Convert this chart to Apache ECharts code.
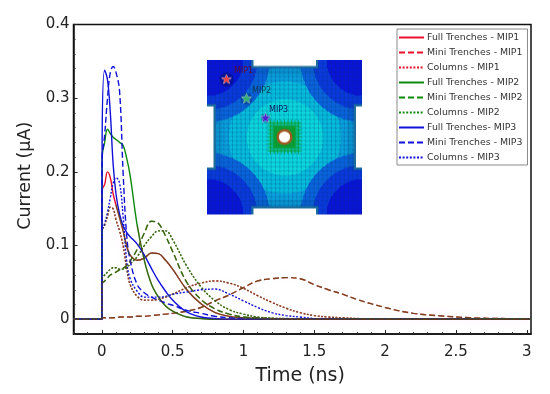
<!DOCTYPE html>
<html><head><meta charset="utf-8">
<style>html,body{margin:0;padding:0;background:#fff}#c{width:550px;height:394px}</style>
<script src="https://cdn.jsdelivr.net/npm/echarts@6/dist/echarts.min.js"></script>
</head><body><div id="c"></div>
<script>
const time = [-0.2,0,0.002,0.02,0.04,0.06,0.08,0.1,0.125,0.15,0.175,0.2,0.25,0.3,0.35,0.4,0.45,0.5,0.6,0.7,0.8,0.9,1,1.1,1.2,1.3,1.4,1.5,1.6,1.7,1.8,2,2.2,2.4,2.6,2.8,3.03];
const fullMip1 = [0,0,.175,.183,.2,.192,.17,.155,.138,.12,.1,.087,.08,.083,.09,.089,.08,.068,.04,.021,.009,.004,.002,.001,0,0,0,0,0,0,0,0,0,0,0,0,0];
const miniMip1 = [0,.001,.002,.002,.002,.002,.002,.002,.003,.003,.003,.003,.004,.004,.005,.006,.007,.008,.011,.016,.025,.033,.043,.052,.055,.0565,.055,.047,.04,.034,.027,.016,.008,.0045,.002,.001,.0005];
const colsMip1 = [0,0,.12,.128,.14,.152,.15,.135,.12,.1,.07,.047,.031,.026,.026,.027,.03,.034,.043,.049,.052,.049,.042,.032,.023,.015,.009,.005,.003,.002,.001,.0005,0,0,0,0,0];
const fullMip2 = [0,0,.22,.24,.258,.252,.247,.244,.24,.236,.219,.195,.127,.08,.048,.03,.018,.011,.003,.001,0,0,0,0,0,0,0,0,0,0,0,0,0,0,0,0,0];
const miniMip2 = [0,0,.048,.052,.056,.06,.062,.064,.067,.069,.073,.079,.095,.117,.133,.13,.113,.092,.05,.027,.014,.007,.003,.002,.001,0,0,0,0,0,0,0,0,0,0,0,0];
const colsMip2 = [0,0,.055,.06,.064,.068,.07,.07,.068,.068,.07,.075,.085,.1,.112,.12,.12,.108,.072,.044,.025,.013,.007,.003,.0015,.001,0,0,0,0,0,0,0,0,0,0,0];
const fullMip3 = [0,0,.235,.338,.325,.28,.21,.17,.143,.127,.118,.112,.102,.087,.069,.052,.038,.026,.01,.003,.001,0,0,0,0,0,0,0,0,0,0,0,0,0,0,0,0];
const miniMip3 = [0,0,.215,.25,.3,.335,.343,.335,.31,.2,.115,.08,.047,.036,.03,.026,.022,.019,.012,.008,.004,.002,.001,.0005,0,0,0,0,0,0,0,0,0,0,0,0,0];
const colsMip3 = [0,0,.12,.13,.145,.165,.185,.192,.185,.14,.08,.055,.038,.03,.03,.03,.031,.034,.037,.04,.041,.034,.025,.016,.009,.005,.003,.001,.0005,0,0,0,0,0,0,0,0];
const xTicks = [0,0.5,1,1.5,2,2.5,3];
const yTicks = [0,0.1,0.2,0.3,0.4];
const xMinor = [-0.2,-0.1,0.1,0.2,0.3,0.4,0.6,0.7,0.8,0.9,1.1,1.2,1.3,1.4,1.6,1.7,1.8,1.9,2.1,2.2,2.3,2.4,2.6,2.7,2.8,2.9];
const yMinor = [-0.02,0.02,0.04,0.06,0.08,0.12,0.14,0.16,0.18,0.22,0.24,0.26,0.28,0.32,0.34,0.36,0.38];
const names = ['Full Trenches - MIP1','Mini Trenches - MIP1','Columns - MIP1','Full Trenches - MIP2','Mini Trenches - MIP2','Columns - MIP2','Full Trenches- MIP3','Mini Trenches - MIP3','Columns - MIP3'];
const values = [fullMip1,miniMip1,colsMip1,fullMip2,miniMip2,colsMip2,fullMip3,miniMip3,colsMip3];
const colors = ['#e8102a','#e8102a','#e8102a','#0a8a0a','#0a8a0a','#0a8a0a','#1010d8','#1010d8','#1010d8'];
const dashes = ['solid',[6,3],[2,1.6],'solid',[6,3],[2,1.6],'solid',[6,3],[2,1.6]];
const FONT = '"DejaVu Sans"';

function inset(){
  const W=156,H=156,c=document.createElement('canvas');c.width=W;c.height=H;
  const x=c.getContext('2d');
  const poly=[[0,0],[46.5,0],[46.5,6.5],[109,6.5],[109,0],[155,0],[155,47],[149,47],[149,108],[155,108],[155,155],[109,155],[109,149],[46.5,149],[46.5,155],[0,155],[0,108],[6.5,108],[6.5,47],[0,47]];
  const cx=77.5,cy=77.5;
  const im=x.createImageData(W,H);
  for(let j=0;j<H;j++)for(let i=0;i<W;i++){
    const dc=Math.min(Math.hypot(i,j),Math.hypot(155-i,j),Math.hypot(i,155-j),Math.hypot(155-i,155-j));
    const d0=Math.hypot(i-cx,j-cy);
    const col=dc<36?'#0a14dc':dc<50?'#0a3ae0':dc<62?'#0a66e0':d0<38?'#0cdce0':d0<56?'#06c0e0':d0<70?'#0aa4e0':'#0c86dc';
    const h=parseInt(col.slice(1),16),p=(j*W+i)*4;
    im.data[p]=h>>16;im.data[p+1]=(h>>8)&255;im.data[p+2]=h&255;im.data[p+3]=255;
  }
  x.putImageData(im,0,0);
  // mesh
  x.strokeStyle='rgba(10,50,110,.33)';x.lineWidth=.7;x.beginPath();
  for(let i=4;i<155;i+=4.3){x.moveTo(i,0);x.lineTo(i,155);x.moveTo(0,i);x.lineTo(155,i);}
  x.stroke();
  x.strokeStyle='rgba(10,50,110,.18)';x.lineWidth=.5;x.beginPath();
  for(let i=-155;i<155;i+=4.3){x.moveTo(i,0);x.lineTo(i+155,155);}
  x.stroke();
  // dense mesh strips next to the notches
  x.strokeStyle='rgba(10,70,120,.45)';x.lineWidth=.6;x.beginPath();
  for(let i=44;i<112;i+=2){x.moveTo(i,8);x.lineTo(i,15);x.moveTo(i,140);x.lineTo(i,147);x.moveTo(8,i);x.lineTo(15,i);x.moveTo(140,i);x.lineTo(147,i);}
  x.stroke();
  // green square + rays
  x.fillStyle='#0ab890';x.fillRect(cx-15,cy-15,30,30);
  x.fillStyle='#0a9a30';x.fillRect(cx-11,cy-11,22,22);
  x.strokeStyle='rgba(10,160,60,.8)';x.lineWidth=1;x.beginPath();
  for(let a=-14;a<=14;a+=3.5){x.moveTo(cx+a,cy-17);x.lineTo(cx+a,cy+17);x.moveTo(cx-17,cy+a);x.lineTo(cx+17,cy+a);}
  x.stroke();
  x.fillStyle='#a05a20';x.beginPath();x.arc(cx,cy,8,0,7);x.fill();
  x.fillStyle='#fff';x.beginPath();x.arc(cx,cy,5.6,0,7);x.fill();
  // teal rims along the notches
  x.strokeStyle='#1c6c9c';x.lineWidth=4.5;x.lineJoin='miter';
  [[[46.5,0],[46.5,6.5],[109,6.5],[109,0]],[[46.5,155],[46.5,149],[109,149],[109,155]],
   [[0,47],[6.5,47],[6.5,108],[0,108]],[[155,47],[149,47],[149,108],[155,108]]].forEach(s=>{
    x.beginPath();s.forEach((p,i)=>i?x.lineTo(p[0],p[1]):x.moveTo(p[0],p[1]));x.stroke();
  });
  x.globalCompositeOperation='destination-in';
  x.beginPath();poly.forEach((p,i)=>i?x.lineTo(p[0],p[1]):x.moveTo(p[0],p[1]));x.closePath();x.fillStyle='#000';x.fill();
  x.globalCompositeOperation='source-over';
  const star=(px,py,col)=>{
    x.fillStyle=col;x.strokeStyle='rgba(235,235,235,.9)';x.lineWidth=.8;x.beginPath();
    for(let i=0;i<10;i++){const r=i%2?2:5,a=-Math.PI/2+i*Math.PI/5;const X=px+r*Math.cos(a),Y=py+r*Math.sin(a);i?x.lineTo(X,Y):x.moveTo(X,Y);}
    x.closePath();x.stroke();x.fill();
  };
  x.fillStyle='rgba(0,10,70,.4)';x.beginPath();x.arc(19.5,20,7,0,7);x.fill();
  x.fillStyle='rgba(0,40,80,.35)';x.beginPath();x.arc(39.5,39.3,6,0,7);x.fill();
  x.fillStyle='rgba(0,60,110,.3)';x.beginPath();x.arc(58.5,58.7,5,0,7);x.fill();
  star(19.5,20,'#f04040');star(39.5,39.3,'#30b070');star(58.5,58.7,'#5020d0');
  const out=document.createElement('canvas');out.width=W;out.height=H;
  const o=out.getContext('2d');o.filter='blur(0.45px)';o.drawImage(c,0,0);
  return out;
}

const series=[];
names.forEach((n,i)=>{
  series.push({name:n,type:'line',xAxisIndex:0,yAxisIndex:0,symbol:'none',smooth:0.4,silent:true,z:3,
    data:time.map((t,k)=>[t,values[i][k]]),
    itemStyle:{color:colors[i]},
    lineStyle:{color:colors[i],width:1.4,type:dashes[i]}});
});
// the MIP1 curves read brown and the MIP2 dashes olive in the reference, where colours overlap
[[0,0.09,'rgba(30,110,20,.55)'],[1,-1,'rgba(30,110,20,.55)'],[2,-1,'rgba(30,110,20,.55)'],
 [3,0.25,'rgba(120,50,20,.4)'],[4,-1,'rgba(120,50,20,.45)'],[5,-1,'rgba(120,50,20,.45)']].forEach(([i,from,col])=>{
  series.push({name:'overlay'+i,type:'line',xAxisIndex:0,yAxisIndex:0,symbol:'none',smooth:0.4,silent:true,z:4,
    data:time.map((t,k)=>[t,t>=from?values[i][k]:null]),
    lineStyle:{color:col,width:1.4,type:dashes[i],shadowColor:i<3?'rgba(255,120,220,.22)':'transparent',shadowBlur:i<3?14:0}});
});

const chart=echarts.init(document.getElementById('c'),null,{renderer:'canvas'});
const axisText={color:'#222',fontFamily:FONT,fontSize:15};
chart.setOption({
  animation:false,
  backgroundColor:'#fff',
  grid:{left:73.5,top:24.5,width:457.5,height:309.5,outerBoundsMode:'none',show:true,borderColor:'#111',borderWidth:1.5,backgroundColor:'transparent'},
  legend:{data:names,orient:'vertical',left:397,top:29,padding:[4,5,3,1],itemWidth:25,itemHeight:7,itemGap:6,icon:'inherit',
    itemStyle:{opacity:0},
    backgroundColor:'#fff',borderColor:'#8a8a8a',borderWidth:1,borderRadius:0,
    textStyle:{fontFamily:FONT,fontSize:9.4,color:'#333',padding:[0,0,0,-2]},z:10,selectedMode:false},
  xAxis:[
    {type:'value',min:-0.2,max:3.03,name:'Time (ns)',nameLocation:'middle',nameGap:33,
     nameTextStyle:{fontFamily:FONT,fontSize:19,color:'#222',padding:[0,4,0,0]},
     splitLine:{show:false},axisLine:{onZero:false,lineStyle:{color:'#111',width:1.5}},
     axisTick:{inside:true,length:4,customValues:xTicks,lineStyle:{color:'#222'}},
     axisLabel:{...axisText,margin:11,customValues:xTicks,formatter:v=>String(v)}},
    {type:'value',min:-0.2,max:3.03,position:'bottom',splitLine:{show:false},axisLine:{show:false,onZero:false},
     axisLabel:{show:false},axisTick:{inside:true,length:2,customValues:xMinor,lineStyle:{color:'#333'}}}
  ],
  yAxis:[
    {type:'value',min:-0.02,max:0.4,name:'Current (μA)',nameLocation:'middle',nameGap:39,
     nameTextStyle:{fontFamily:FONT,fontSize:17.5,color:'#222',padding:[0,0,0,7]},
     splitLine:{show:false},axisLine:{onZero:false,lineStyle:{color:'#111',width:1.5}},
     axisTick:{inside:true,length:4,customValues:yTicks,lineStyle:{color:'#222'}},
     axisLabel:{...axisText,margin:4,customValues:yTicks,formatter:v=>String(v)}},
    {type:'value',min:-0.02,max:0.4,position:'left',splitLine:{show:false},axisLine:{show:false,onZero:false},
     axisLabel:{show:false},axisTick:{inside:true,length:2,customValues:yMinor,lineStyle:{color:'#333'}}}
  ],
  series:series.concat([
    {type:'line',xAxisIndex:1,yAxisIndex:1,data:[],silent:true}
  ]),
  graphic:[
    {type:'image',left:207,top:59.5,z:1,style:{image:inset(),width:156,height:156}},
    {type:'text',left:234,top:67,z:2,style:{text:'MIP1',fontFamily:FONT,fontSize:8,fill:'#5a0a30'}},
    {type:'text',left:252,top:87,z:2,style:{text:'MIP2',fontFamily:FONT,fontSize:8,fill:'#0a3a50'}},
    {type:'text',left:269,top:106,z:2,style:{text:'MIP3',fontFamily:FONT,fontSize:8,fill:'#0a2060'}}
  ]
});
</script></body></html>
